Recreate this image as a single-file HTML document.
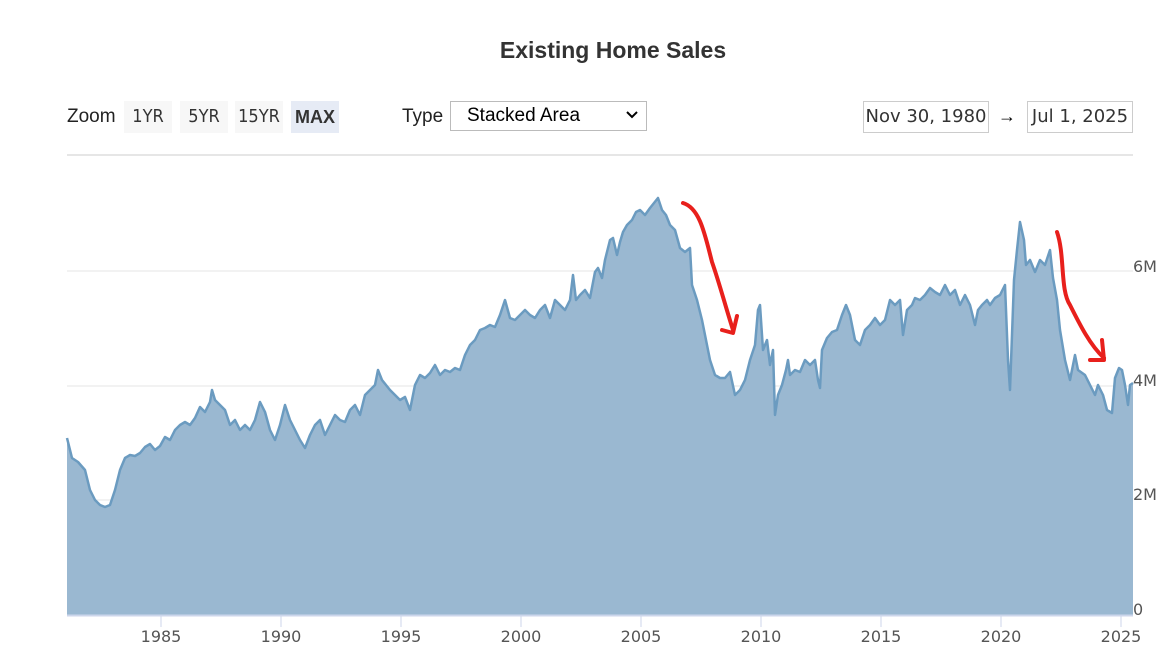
<!DOCTYPE html>
<html><head><meta charset="utf-8"><style>
body{margin:0;width:1175px;height:667px;background:#fff;font-family:"Liberation Sans",sans-serif;overflow:hidden;position:relative}
.t{position:absolute}
.btn{position:absolute;top:101px;height:32px;line-height:32px;background:#f7f7f7;color:#333;font-size:18px;text-align:center;font-family:"DejaVu Sans Condensed","DejaVu Sans",sans-serif}
.box{position:absolute;top:101px;height:30px;line-height:30px;border:1px solid #ccc;font-size:18px;color:#333;font-family:"DejaVu Sans",sans-serif;text-align:center}
</style></head><body>
<div class="t" style="left:0;width:1226px;top:37px;text-align:center;font-size:23px;font-weight:bold;color:#333">Existing Home Sales</div>
<div class="t" style="left:67px;top:106px;font-size:19px;color:#222">Zoom</div>
<div class="btn" style="left:124px;width:48px">1YR</div>
<div class="btn" style="left:180px;width:48px">5YR</div>
<div class="btn" style="left:235px;width:48px">15YR</div>
<div class="btn" style="left:291px;width:48px;background:#e6ebf5;font-weight:bold;font-family:'Liberation Sans',sans-serif">MAX</div>
<div class="t" style="left:402px;top:106px;font-size:19px;color:#222">Type</div>
<div class="t" style="left:450px;top:101px;width:195px;height:28px;border:1px solid #bbb;font-size:19px;line-height:28px;color:#000"><span style="margin-left:16px">Stacked Area</span>
<svg style="position:absolute;right:8px;top:9px" width="12" height="9"><path d="M1,1 L6,6 L11,1" fill="none" stroke="#000" stroke-width="2"/></svg></div>
<div class="box" style="left:863px;width:124px">Nov 30, 1980</div>
<div class="t" style="left:998px;top:106px;font-size:18px">→</div>
<div class="box" style="left:1027px;width:104px">Jul 1, 2025</div>
<svg class="t" style="left:0;top:0" width="1175" height="667">
<line x1="67" y1="155" x2="1133" y2="155" stroke="#e6e6e6" stroke-width="2"/>
<g stroke="#e6e6e6"><line x1="67" y1="271" x2="1133" y2="271"/><line x1="67" y1="386" x2="1133" y2="386"/><line x1="67" y1="500" x2="1133" y2="500"/></g>
<polygon fill="#9ab8d1" points="67,615 67,438 72,458 78,462 85,470 90,490 95,500 100,505 105,507 110,505 115,490 120,470 125,458 130,455 135,456 140,453 145,447 150,444 155,450 160,446 165,437 170,440 175,430 180,425 185,422 190,425 195,418 200,407 205,412 210,402 212,390 215,400 220,405 225,410 230,425 235,420 240,430 245,425 250,430 255,420 260,402 265,412 270,430 275,440 280,425 285,405 290,420 295,430 300,440 305,448 310,435 315,425 320,420 325,435 330,425 335,415 340,420 345,422 350,410 355,405 360,415 365,395 370,390 375,385 378,370 382,380 386,385 390,390 395,395 400,400 405,397 410,410 415,385 420,375 425,378 430,373 435,365 440,375 445,370 450,372 455,368 460,370 465,355 470,345 475,340 480,330 485,328 490,325 495,327 500,315 505,300 510,318 515,320 520,315 525,310 530,315 535,318 540,310 545,305 550,318 555,300 560,305 565,310 570,300 573,275 576,300 580,295 585,290 590,298 595,272 598,268 602,278 605,260 610,240 613,238 617,255 620,242 623,232 627,225 632,220 636,212 640,210 645,215 650,208 654,203 658,198 662,210 666,215 670,225 675,230 680,248 685,252 690,248 692,285 697,300 702,320 706,340 710,360 715,375 720,378 725,378 730,372 735,395 740,390 745,380 750,360 755,345 758,310 760,305 763,350 767,340 770,365 773,350 775,415 778,395 782,385 786,370 788,360 790,375 795,370 800,372 805,360 810,365 815,360 818,380 820,388 822,350 827,338 832,332 837,330 842,315 846,305 850,315 855,340 860,345 865,330 870,325 875,318 880,325 885,320 890,300 895,305 900,300 903,335 907,310 912,305 915,298 920,300 925,295 930,288 935,292 940,295 945,285 950,295 955,290 960,305 965,295 970,305 975,325 978,310 982,305 987,300 990,305 995,298 1000,295 1005,285 1008,360 1010,390 1014,280 1017,250 1020,222 1024,240 1026,265 1030,260 1035,272 1040,260 1045,265 1050,250 1053,278 1057,300 1060,330 1065,360 1070,380 1075,355 1078,370 1085,375 1090,385 1095,395 1098,385 1103,395 1107,410 1112,413 1115,378 1119,368 1122,370 1125,385 1128,405 1130,385 1133,383 1133,615"/>
<polyline fill="none" stroke="#6b9bc0" stroke-width="2.5" stroke-linejoin="round" points="67,438 72,458 78,462 85,470 90,490 95,500 100,505 105,507 110,505 115,490 120,470 125,458 130,455 135,456 140,453 145,447 150,444 155,450 160,446 165,437 170,440 175,430 180,425 185,422 190,425 195,418 200,407 205,412 210,402 212,390 215,400 220,405 225,410 230,425 235,420 240,430 245,425 250,430 255,420 260,402 265,412 270,430 275,440 280,425 285,405 290,420 295,430 300,440 305,448 310,435 315,425 320,420 325,435 330,425 335,415 340,420 345,422 350,410 355,405 360,415 365,395 370,390 375,385 378,370 382,380 386,385 390,390 395,395 400,400 405,397 410,410 415,385 420,375 425,378 430,373 435,365 440,375 445,370 450,372 455,368 460,370 465,355 470,345 475,340 480,330 485,328 490,325 495,327 500,315 505,300 510,318 515,320 520,315 525,310 530,315 535,318 540,310 545,305 550,318 555,300 560,305 565,310 570,300 573,275 576,300 580,295 585,290 590,298 595,272 598,268 602,278 605,260 610,240 613,238 617,255 620,242 623,232 627,225 632,220 636,212 640,210 645,215 650,208 654,203 658,198 662,210 666,215 670,225 675,230 680,248 685,252 690,248 692,285 697,300 702,320 706,340 710,360 715,375 720,378 725,378 730,372 735,395 740,390 745,380 750,360 755,345 758,310 760,305 763,350 767,340 770,365 773,350 775,415 778,395 782,385 786,370 788,360 790,375 795,370 800,372 805,360 810,365 815,360 818,380 820,388 822,350 827,338 832,332 837,330 842,315 846,305 850,315 855,340 860,345 865,330 870,325 875,318 880,325 885,320 890,300 895,305 900,300 903,335 907,310 912,305 915,298 920,300 925,295 930,288 935,292 940,295 945,285 950,295 955,290 960,305 965,295 970,305 975,325 978,310 982,305 987,300 990,305 995,298 1000,295 1005,285 1008,360 1010,390 1014,280 1017,250 1020,222 1024,240 1026,265 1030,260 1035,272 1040,260 1045,265 1050,250 1053,278 1057,300 1060,330 1065,360 1070,380 1075,355 1078,370 1085,375 1090,385 1095,395 1098,385 1103,395 1107,410 1112,413 1115,378 1119,368 1122,370 1125,385 1128,405 1130,385 1133,383"/>
<line x1="67" y1="615.5" x2="1133" y2="615.5" stroke="#ccd6eb" stroke-width="2"/>
<g stroke="#ccd6eb"><line x1="161" y1="616" x2="161" y2="627"/><line x1="281" y1="616" x2="281" y2="627"/><line x1="401" y1="616" x2="401" y2="627"/><line x1="521" y1="616" x2="521" y2="627"/><line x1="641" y1="616" x2="641" y2="627"/><line x1="761" y1="616" x2="761" y2="627"/><line x1="881" y1="616" x2="881" y2="627"/><line x1="1001" y1="616" x2="1001" y2="627"/><line x1="1121" y1="616" x2="1121" y2="627"/></g>
<g font-family="DejaVu Sans,sans-serif" font-size="16" fill="#555" text-anchor="middle"><text x="161" y="642">1985</text><text x="281" y="642">1990</text><text x="401" y="642">1995</text><text x="521" y="642">2000</text><text x="641" y="642">2005</text><text x="761" y="642">2010</text><text x="881" y="642">2015</text><text x="1001" y="642">2020</text><text x="1121" y="642">2025</text></g>
<g font-family="DejaVu Sans,sans-serif" font-size="16" fill="#555"><text x="1133" y="272">6M</text><text x="1133" y="386">4M</text><text x="1133" y="500">2M</text><text x="1133" y="615">0</text></g>
<g fill="none" stroke="#e8201c" stroke-width="4" stroke-linecap="round" stroke-linejoin="round">
<path d="M683,203 C700,208 705,235 712,262 C720,285 725,305 733,330"/>
<path d="M722,330 L733,333 L737,316"/>
<path d="M1057,232 C1065,255 1060,290 1070,305 C1080,325 1090,345 1104,358"/>
<path d="M1090,360 L1104,360 L1102,340"/>
</g>
</svg>
</body></html>
